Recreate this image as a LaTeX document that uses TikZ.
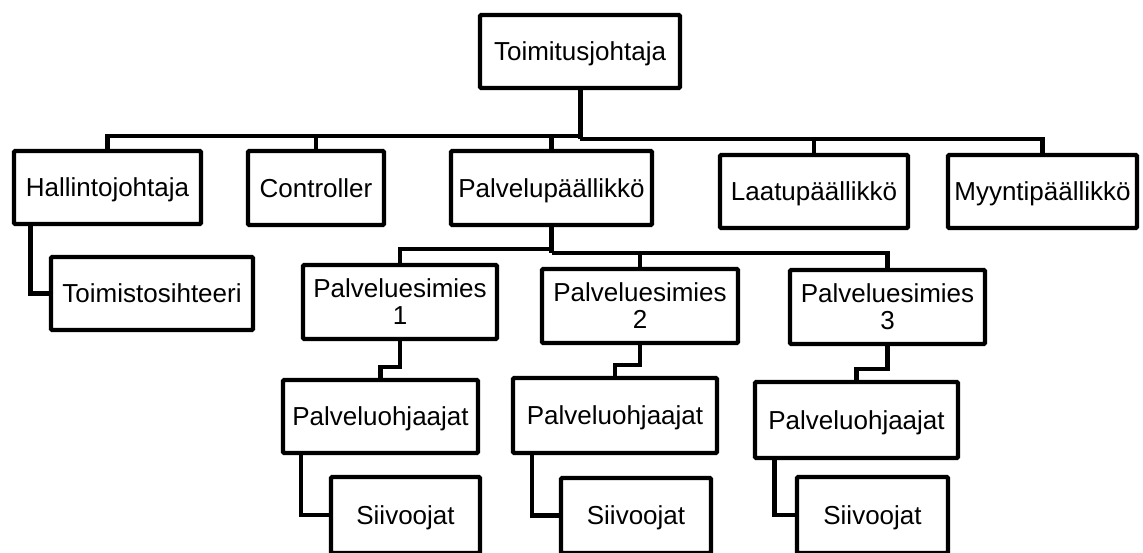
\documentclass[tikz,border=0pt]{standalone}
\usepackage{fontspec}
\setmainfont{Liberation Sans}
\tikzset{
  box/.style={draw=black, line width=4.2pt, inner sep=0pt, align=center,
    font=\fontsize{26}{27}\selectfont, text height=22pt, text depth=3.4pt,
    rounded corners=1pt, fill=white},
  twoline/.style={text height=49pt},
  conn/.style={draw=black, line width=4.4pt},
  trunk/.style={draw=black, line width=5pt},
}
\begin{document}
\begin{tikzpicture}[x=1pt,y=-1pt]
\useasboundingbox (0,0) rectangle (1143,552);
% coordinates of the buses
\coordinate (busL) at (580,136);
\coordinate (busR) at (580,139);
\coordinate (sbL) at (551.5,249);
\coordinate (sbR) at (551.5,253);

\node[box, minimum width=200pt, minimum height=73pt] (top) at (580,51.5) {Toimitusjohtaja};
\node[box, minimum width=187pt, minimum height=73pt] (hal) at (107.5,187.5) {Hallintojohtaja};
\node[box, minimum width=136pt, minimum height=74pt] (ctrl) at (316,188) {Controller};
\node[box, minimum width=201pt, minimum height=74pt] (pp) at (551.5,188) {Palvelupäällikkö};
\node[box, minimum width=188pt, minimum height=73pt] (laatu) at (814,191.5) {Laatupäällikkö};
\node[box, minimum width=189pt, minimum height=73pt] (myynti) at (1042.5,191.5) {Myyntipäällikkö};
\node[box, minimum width=202pt, minimum height=73pt] (toim) at (152,293.5) {Toimistosihteeri};
\node[box, twoline, minimum width=194pt, minimum height=74pt] (ps1) at (400,302) {Palveluesimies\\1};
\node[box, twoline, minimum width=196pt, minimum height=74pt] (ps2) at (640,306) {Palveluesimies\\2};
\node[box, twoline, minimum width=195pt, minimum height=74pt] (ps3) at (887.5,307) {Palveluesimies\\3};
\node[box, minimum width=195pt, minimum height=73pt] (po1) at (380.5,416.5) {Palveluohjaajat};
\node[box, minimum width=204pt, minimum height=75pt] (po2) at (615,415.5) {Palveluohjaajat};
\node[box, minimum width=203pt, minimum height=76pt] (po3) at (856.5,420) {Palveluohjaajat};
\node[box, minimum width=149pt, minimum height=76pt] (s1) at (405.5,515) {Siivoojat};
\node[box, minimum width=150pt, minimum height=75pt] (s2) at (636,515.5) {Siivoojat};
\node[box, minimum width=151pt, minimum height=76pt] (s3) at (872.5,515) {Siivoojat};

% top bus
\draw[trunk] (top.south) -- (busR);
\draw[conn] (hal.north) |- (busL);
\draw[conn] (ctrl.north) -- (ctrl.north |- busL);
\draw[conn] (pp.north) -- (pp.north |- busL);
\draw[conn] (myynti.north) |- (busR);
\draw[conn] (laatu.north) -- (laatu.north |- busR);

% sub-bus of Palvelupäällikkö
\draw[trunk] (pp.south) -- (sbR);
\draw[conn] (ps1.north) |- (sbL);
\draw[conn] (ps3.north) |- (sbR);
\draw[conn] (ps2.north) -- (ps2.north |- sbR);

% esimies -> ohjaajat
\draw[conn] (ps1.south) -- ++(0,26) -| (po1.north);
\draw[conn] (ps2.south) -- ++(0,20) -| (po2.north);
\draw[conn] (ps3.south) -- ++(0,23) -| (po3.north);

% side elbows
\draw[conn] ([xshift=18.5pt]hal.south west) |- (toim.west);
\draw[conn] ([xshift=20pt]po1.south west) |- (s1.west);
\draw[conn] ([xshift=21pt]po2.south west) |- (s2.west);
\draw[conn] ([xshift=21.5pt]po3.south west) |- (s3.west);
\end{tikzpicture}
\end{document}
